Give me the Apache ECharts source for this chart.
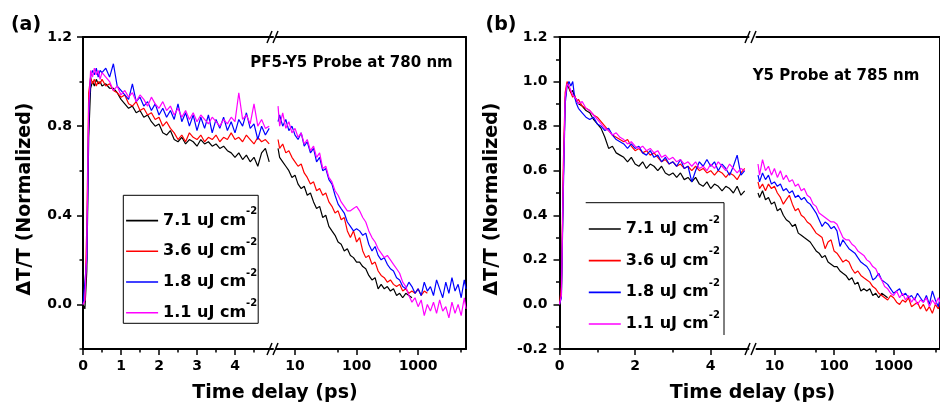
<!DOCTYPE html>
<html><head><meta charset="utf-8">
<script src="https://cdn.jsdelivr.net/npm/echarts@6.0.0/dist/echarts.min.js"></script>
<style>html,body{margin:0;padding:0;background:#fff}#c{width:940px;height:405px}</style>
</head><body><div id="c"></div>
<script>
// ---------- data ----------
const seriesNames = ['7.1 uJ cm-2', '3.6 uJ cm-2', '1.8 uJ cm-2', '1.1 uJ cm-2'];
const seriesColors = ['#000000', '#ff0000', '#0000ff', '#ff00ff'];

const timeLin = [0,0.05,0.1,0.15,0.2,0.25,0.3,0.35,0.4,0.45,0.5,0.6,0.7,0.8,0.9,1.0,1.1,1.2,1.3,1.4,1.5,1.6,1.7,1.8,1.9,2.0,2.1,2.2,2.3,2.4,2.5,2.6,2.7,2.8,2.9,3.0,3.1,3.2,3.3,3.4,3.5,3.6,3.7,3.8,3.9,4.0,4.1,4.2,4.3,4.4,4.5,4.6,4.7,4.8,4.9];
const timeLog = [5.3,5.62,6.31,7.08,7.94,8.91,10,11.2,12.6,14.1,15.8,17.8,20,22.4,25.1,28.2,31.6,35.5,39.8,44.7,50.1,56.2,63.1,70.8,79.4,89.1,100,112,126,141,158,178,200,224,251,282,316,355,398,447,501,562,631,708,794,891,1000,1122,1259,1413,1585,1778,1995,2239,2512,2818,3162,3548,3981,4467,5012,5623,6000];

// panel (a) PF5-Y5, probe 780 nm
const aLin71 = [0.0,-0.02,0.15,0.75,0.97,1.0,0.98,1.01,0.99,1.0,0.98, 0.99,0.97,0.97,0.95,0.92,0.90,0.88,0.89,0.86,0.87, 0.84,0.85,0.82,0.80,0.81,0.77,0.76,0.78,0.74,0.73, 0.75,0.72,0.74,0.73,0.71,0.74,0.72,0.73,0.71,0.72, 0.70,0.71,0.69,0.68,0.66,0.68,0.65,0.67,0.64,0.66, 0.62,0.68,0.70,0.64];
const aLin36 = [0.0,0.02,0.35,0.95,1.02,0.99,1.01,0.98,1.0,0.99,1.01, 0.98,0.99,0.96,0.95,0.93,0.94,0.90,0.89,0.91,0.87, 0.88,0.85,0.86,0.83,0.84,0.80,0.82,0.79,0.77,0.74, 0.76,0.73,0.77,0.75,0.74,0.76,0.73,0.75,0.74,0.76, 0.73,0.75,0.74,0.77,0.74,0.75,0.73,0.76,0.74,0.72, 0.75,0.73,0.74,0.72];
const aLin18 = [0.0,0.0,0.2,0.85,1.02,1.05,1.03,1.06,1.02,1.05,1.04, 1.06,1.02,1.08,0.98,0.96,0.94,0.92,0.99,0.91,0.93, 0.89,0.91,0.87,0.90,0.85,0.88,0.84,0.87,0.83,0.90, 0.82,0.86,0.80,0.85,0.78,0.84,0.79,0.85,0.77,0.83, 0.79,0.84,0.78,0.82,0.77,0.83,0.80,0.86,0.79,0.81, 0.74,0.80,0.76,0.79];
const aLin11 = [0.0,0.02,0.25,0.88,1.05,1.02,1.06,1.03,1.05,1.01,1.04, 1.02,1.00,0.96,0.98,0.94,0.96,0.93,0.95,0.91,0.94, 0.92,0.89,0.93,0.90,0.88,0.91,0.87,0.89,0.85,0.88, 0.84,0.87,0.83,0.86,0.82,0.85,0.83,0.81,0.84,0.82, 0.80,0.83,0.81,0.84,0.82,0.95,0.83,0.85,0.81,0.90, 0.80,0.83,0.79,0.80];
const aLog71 = [0.70,0.66,0.64,0.62,0.60,0.57, 0.58,0.54,0.52,0.53,0.49,0.50,0.46,0.43,0.44,0.39, 0.40,0.35,0.33,0.31,0.28,0.27,0.24,0.25,0.22,0.21, 0.19,0.19,0.17,0.16,0.13,0.11,0.12,0.07,0.09,0.07, 0.08,0.06,0.07,0.04,0.05,0.03,0.05,0.04,0.03];
const aLog36 = [0.74,0.70,0.72,0.68,0.69,0.66, 0.64,0.62,0.63,0.59,0.57,0.54,0.55,0.51,0.52,0.49, 0.50,0.46,0.44,0.41,0.42,0.38,0.39,0.33,0.30,0.33, 0.28,0.30,0.24,0.21,0.22,0.18,0.19,0.15,0.13,0.12, 0.10,0.11,0.09,0.08,0.09,0.06,0.07,0.05,0.06,0.05, 0.07,0.04,0.06,0.05];
const aLog18 = [0.82,0.85,0.80,0.83,0.78,0.80, 0.76,0.74,0.77,0.71,0.73,0.68,0.70,0.64,0.66,0.60, 0.61,0.56,0.54,0.49,0.45,0.43,0.41,0.37,0.35,0.33, 0.34,0.33,0.31,0.32,0.27,0.24,0.26,0.22,0.20,0.21, 0.18,0.16,0.15,0.12,0.11,0.08,0.07,0.10,0.08,0.05, 0.07,0.04,0.10,0.06,0.08,0.04,0.11,0.07,0.03,0.10,0.05,0.12,0.06,0.09,0.03,0.11,0.07];
const aLog11 = [0.89,0.80,0.86,0.79,0.82,0.77, 0.79,0.75,0.77,0.72,0.74,0.69,0.71,0.66,0.68,0.61, 0.62,0.57,0.55,0.51,0.49,0.46,0.44,0.42,0.42,0.43, 0.44,0.42,0.39,0.37,0.33,0.30,0.28,0.25,0.23,0.21, 0.22,0.20,0.18,0.16,0.14,0.10,0.08,0.04,0.01,0.03, -0.01,0.02,-0.05,0.00,-0.03,0.01,-0.04,0.02,-0.03,-0.01,-0.06,0.01,-0.04,0.00,-0.05,0.03,-0.02];

// panel (b) Y5, probe 785 nm
const bLin71 = [0.0,0.05,0.55,0.92,0.99,0.97,0.95,0.96,0.93,0.92,0.90, 0.89,0.87,0.86,0.83,0.81,0.79,0.75,0.70,0.71,0.68, 0.67,0.66,0.64,0.66,0.63,0.62,0.64,0.61,0.63,0.62, 0.60,0.62,0.59,0.58,0.59,0.57,0.59,0.56,0.57,0.55, 0.57,0.54,0.53,0.55,0.52,0.54,0.53,0.51,0.53,0.52, 0.50,0.53,0.49,0.51];
const bLin36 = [0.0,0.08,0.62,0.95,1.0,0.98,0.95,0.93,0.94,0.91,0.92, 0.89,0.88,0.87,0.85,0.84,0.82,0.80,0.78,0.76,0.75, 0.74,0.73,0.74,0.71,0.69,0.70,0.68,0.69,0.67,0.68, 0.66,0.64,0.65,0.63,0.64,0.62,0.63,0.61,0.62,0.60, 0.62,0.60,0.61,0.59,0.60,0.58,0.60,0.59,0.57,0.59, 0.58,0.56,0.59,0.61];
const bLin18 = [0.0,0.03,0.50,0.90,0.98,1.0,0.98,1.0,0.93,0.90,0.88, 0.86,0.84,0.83,0.84,0.81,0.80,0.78,0.79,0.76,0.74, 0.73,0.72,0.70,0.72,0.70,0.71,0.68,0.67,0.69,0.66, 0.67,0.64,0.66,0.63,0.64,0.62,0.65,0.61,0.62,0.55, 0.60,0.64,0.62,0.65,0.62,0.64,0.60,0.63,0.61,0.58, 0.62,0.67,0.58,0.60];
const bLin11 = [0.0,0.04,0.55,0.93,0.99,0.98,0.96,0.94,0.93,0.92,0.90, 0.91,0.88,0.87,0.85,0.83,0.81,0.79,0.78,0.76,0.77, 0.75,0.74,0.72,0.73,0.71,0.70,0.71,0.69,0.70,0.68, 0.69,0.66,0.67,0.65,0.66,0.64,0.65,0.63,0.64,0.62, 0.64,0.61,0.62,0.60,0.63,0.61,0.64,0.62,0.60,0.63, 0.61,0.59,0.61,0.60];
const bLog71 = [0.50,0.48,0.51,0.47,0.48,0.45, 0.46,0.42,0.43,0.40,0.38,0.37,0.35,0.36,0.32,0.31, 0.30,0.29,0.28,0.26,0.24,0.23,0.21,0.22,0.19,0.18, 0.17,0.17,0.15,0.14,0.13,0.11,0.12,0.09,0.10,0.06, 0.07,0.06,0.07,0.04,0.05,0.03,0.05,0.04,0.03];
const bLog36 = [0.55,0.52,0.54,0.51,0.54,0.52, 0.53,0.50,0.48,0.45,0.47,0.49,0.45,0.42,0.43,0.40, 0.39,0.37,0.36,0.34,0.32,0.31,0.30,0.25,0.28,0.29, 0.24,0.23,0.21,0.19,0.20,0.19,0.16,0.14,0.15,0.13, 0.12,0.11,0.10,0.08,0.07,0.05,0.04,0.03,0.02,0.04, 0.03,0.01,0.00,0.02,0.01,0.03,-0.01,0.00,0.01,-0.02,0.00,-0.03,-0.01,-0.04,0.00,-0.02,0.01];
const bLog18 = [0.58,0.55,0.59,0.56,0.58,0.54, 0.55,0.53,0.54,0.51,0.52,0.50,0.51,0.48,0.49,0.47, 0.48,0.46,0.45,0.43,0.41,0.38,0.35,0.37,0.36,0.34, 0.35,0.33,0.26,0.29,0.27,0.25,0.24,0.23,0.21,0.19, 0.18,0.17,0.15,0.11,0.12,0.14,0.11,0.10,0.09,0.07, 0.05,0.06,0.07,0.04,0.05,0.03,0.04,0.02,0.05,0.03,0.01,0.04,0.00,0.06,0.02,-0.01,0.03];
const bLog11 = [0.63,0.58,0.65,0.60,0.62,0.58, 0.61,0.57,0.60,0.56,0.58,0.55,0.56,0.53,0.54,0.51, 0.52,0.49,0.48,0.45,0.44,0.41,0.40,0.39,0.38,0.37, 0.37,0.36,0.33,0.30,0.29,0.29,0.27,0.26,0.24,0.23, 0.22,0.20,0.19,0.17,0.16,0.13,0.11,0.08,0.07,0.05, 0.04,0.06,0.03,0.05,0.02,0.04,0.01,0.03,0.00,0.02,0.01,0.03,-0.01,0.02,0.00,0.03,0.01];

// tick labels / tick positions
const xTicksLinA = [0, 1, 2, 3, 4];
const xMinorLinA = [0.5, 1.5, 2.5, 3.5, 4.5];
const xTicksLinB = [0, 2, 4];
const xMinorLinB = [1, 3];
const xTicksLog = [10, 100, 1000];
const xMinorLog = [50, 500, 5000];
const yTicksA = [0, 0.4, 0.8, 1.2];
const yMinorA = [-0.2, 0.2, 0.6, 1.0];

// ---------- chart ----------
const F = 'DejaVu Sans';
const BLACK = '#000';
const axisLineStyle = { show: true, onZero: false, lineStyle: { color: BLACK, width: 2 } };
const noLine = { show: false, onZero: false };
const tickLine = { color: BLACK, width: 1.5 };
const labelStyle = { fontFamily: F, fontWeight: 'bold', fontSize: 14, color: BLACK };

function xMain(gi, type, min, max, ticks) {
  return { gridIndex: gi, type, min, max, logBase: 10, position: 'bottom',
    axisLine: axisLineStyle,
    axisTick: { show: true, inside: false, length: 6, customValues: ticks, lineStyle: tickLine },
    axisLabel: Object.assign({ customValues: ticks, margin: 10, formatter: v => String(v) }, labelStyle),
    splitLine: { show: false } };
}
function xMinor(gi, type, min, max, ticks) {
  return { gridIndex: gi, type, min, max, logBase: 10, position: 'bottom',
    axisLine: noLine,
    axisTick: { show: true, inside: false, length: 3.5, customValues: ticks, lineStyle: tickLine },
    axisLabel: { show: false }, splitLine: { show: false } };
}
function xTop(gi, type, min, max) {
  return { gridIndex: gi, type, min, max, logBase: 10, position: 'top',
    axisLine: axisLineStyle, axisTick: { show: false }, axisLabel: { show: false }, splitLine: { show: false } };
}
function yFrame(gi) {
  return { gridIndex: gi, type: 'value', min: -0.2, max: 1.2, position: 'right',
    axisLine: axisLineStyle, axisTick: { show: false }, axisLabel: { show: false }, splitLine: { show: false } };
}

const xAxis = [
  xMain(0, 'value', 0, 5, xTicksLinA), xMinor(0, 'value', 0, 5, xMinorLinA), xTop(0, 'value', 0, 5),
  xMain(1, 'log', 5, 6000, xTicksLog), xMinor(1, 'log', 5, 6000, xMinorLog), xTop(1, 'log', 5, 6000),
  xMain(2, 'value', 0, 5, xTicksLinB), xMinor(2, 'value', 0, 5, xMinorLinB), xTop(2, 'value', 0, 5),
  xMain(3, 'log', 5, 6000, xTicksLog), xMinor(3, 'log', 5, 6000, xMinorLog), xTop(3, 'log', 5, 6000)
];

const yAxis = [
  { gridIndex: 0, type: 'value', min: -0.2, max: 1.2, position: 'left',
    axisLine: axisLineStyle,
    axisTick: { show: true, length: 6, customValues: yTicksA, lineStyle: tickLine },
    axisLabel: Object.assign({ customValues: yTicksA, margin: 11, formatter: v => Number(v).toFixed(1) }, labelStyle),
    splitLine: { show: false } },
  { gridIndex: 0, type: 'value', min: -0.2, max: 1.2, position: 'left',
    axisLine: noLine,
    axisTick: { show: true, length: 3.5, customValues: yMinorA, lineStyle: tickLine },
    axisLabel: { show: false }, splitLine: { show: false } },
  yFrame(1),
  { gridIndex: 2, type: 'value', min: -0.2, max: 1.2, interval: 0.2, position: 'left',
    axisLine: axisLineStyle,
    axisTick: { show: true, length: 6, lineStyle: tickLine },
    minorTick: { show: true, splitNumber: 2, length: 3.5, lineStyle: tickLine },
    axisLabel: Object.assign({ margin: 12, formatter: v => Number(v).toFixed(1) }, labelStyle),
    splitLine: { show: false } },
  yFrame(3)
];

function mk(idx, times, vals, xi, yi) {
  return { type: 'line', name: seriesNames[idx], xAxisIndex: xi, yAxisIndex: yi,
    data: vals.map((v, i) => [times[i], v]),
    symbol: 'none', showSymbol: false, clip: true,
    lineStyle: { color: seriesColors[idx], width: 1.2 },
    itemStyle: { color: seriesColors[idx] }, z: 2 + idx };
}

const series = [
  mk(0, timeLin, aLin71, 0, 0), mk(1, timeLin, aLin36, 0, 0), mk(2, timeLin, aLin18, 0, 0), mk(3, timeLin, aLin11, 0, 0),
  mk(0, timeLog, aLog71, 3, 2), mk(1, timeLog, aLog36, 3, 2), mk(2, timeLog, aLog18, 3, 2), mk(3, timeLog, aLog11, 3, 2),
  mk(0, timeLin, bLin71, 6, 3), mk(1, timeLin, bLin36, 6, 3), mk(2, timeLin, bLin18, 6, 3), mk(3, timeLin, bLin11, 6, 3),
  mk(0, timeLog, bLog71, 9, 4), mk(1, timeLog, bLog36, 9, 4), mk(2, timeLog, bLog18, 9, 4), mk(3, timeLog, bLog11, 9, 4)
];

const legendRich = {
  b: { fontFamily: F, fontWeight: 'bold', fontSize: 16, color: BLACK, lineHeight: 28, verticalAlign: 'middle' },
  s: { fontFamily: F, fontWeight: 'bold', fontSize: 10, color: BLACK, lineHeight: 10, verticalAlign: 'top' }
};
const legendFormatter = name => '{b|' + name.slice(0, -2) + '}{s|' + name.slice(-2) + '}';

function txt(text, x, y, size, opts) {
  return Object.assign({ type: 'text', x, y, silent: true, z: 100,
    style: { text, font: 'bold ' + size + 'px "DejaVu Sans"', fill: BLACK,
      textAlign: 'center', textVerticalAlign: 'middle', align: 'center', verticalAlign: 'middle' } }, opts || {});
}
function brk(cx, y) {
  return [
    { type: 'line', z: 100, shape: { x1: cx - 5, y1: y + 6, x2: cx, y2: y - 6 }, style: { stroke: BLACK, lineWidth: 1.5 } },
    { type: 'line', z: 100, shape: { x1: cx + 1, y1: y + 6, x2: cx + 6, y2: y - 6 }, style: { stroke: BLACK, lineWidth: 1.5 } }
  ];
}

const graphic = [
  txt('(a)', 26, 25, 19), txt('(b)', 501, 25, 19),
  txt('PF5-Y5 Probe at 780 nm', 351.5, 63.5, 15),
  txt('Y5 Probe at 785 nm', 836, 76, 15),
  txt('ΔT/T (Normalized)', 25, 199, 19, { rotation: Math.PI / 2 }),
  txt('ΔT/T (Normalized)', 492, 199, 19, { rotation: Math.PI / 2 }),
  txt('Time delay (ps)', 275, 393, 19),
  txt('Time delay (ps)', 752.5, 393, 19),
  ...brk(272, 37), ...brk(272, 349), ...brk(750, 37), ...brk(750, 349),
  { type: 'polyline', z: 100, shape: { points: [[585.7, 202.7], [724, 202.7], [724, 335]] }, style: { stroke: BLACK, lineWidth: 1, fill: null } }
];

const legendCommon = { orient: 'vertical', data: seriesNames, itemWidth: 32, itemHeight: 10, selectedMode: false,
  formatter: legendFormatter, textStyle: { rich: legendRich }, lineStyle: { width: 1.6 }, itemStyle: { opacity: 0 } };

const option = {
  animation: false,
  backgroundColor: '#fff',
  grid: [
    { left: 83, top: 37, width: 190, height: 312 },
    { left: 276.5, top: 37, width: 189.5, height: 312 },
    { left: 559.5, top: 37, width: 189, height: 312 },
    { left: 756.5, top: 37, width: 189, height: 312 }
  ],
  xAxis, yAxis, series, graphic,
  legend: [
    Object.assign({ left: 123.3, top: 195.3, itemGap: 8.7, padding: [11.3, 1, 2.6, 2], borderColor: BLACK, borderWidth: 1 }, legendCommon),
    Object.assign({ left: 588, top: 215, itemGap: 9.67, padding: 0, borderWidth: 0 }, legendCommon)
  ]
};

const chart = echarts.init(document.getElementById('c'), null, { renderer: 'canvas' });
chart.setOption(option);
</script></body></html>
